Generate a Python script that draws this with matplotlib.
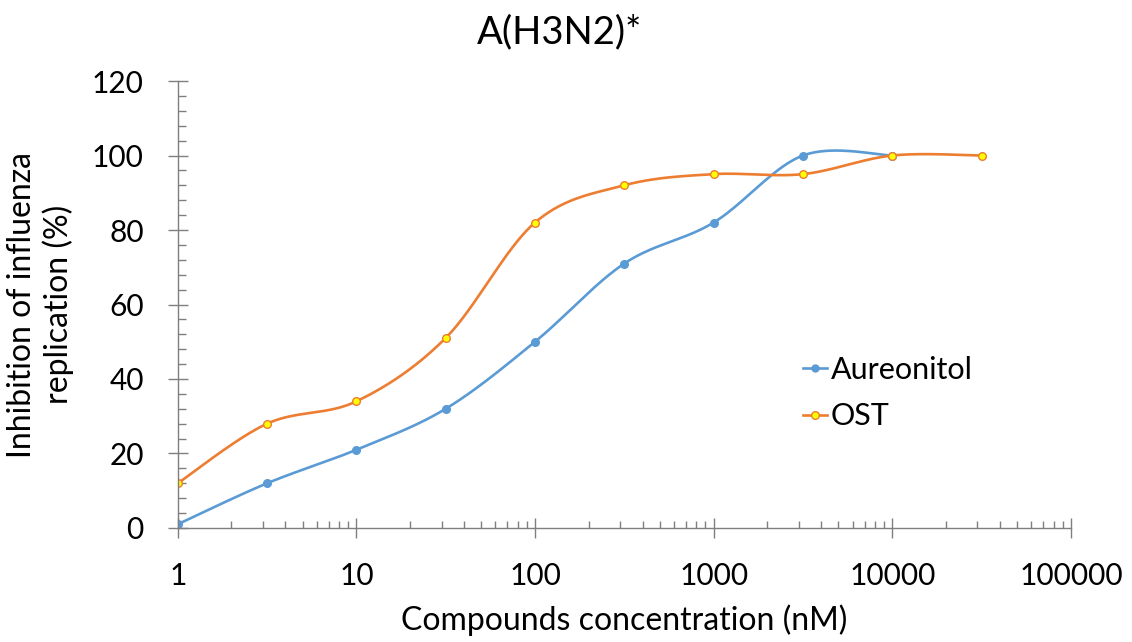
import numpy as np
import matplotlib

matplotlib.use("Agg")
import matplotlib.pyplot as plt
from matplotlib.ticker import FixedLocator, MultipleLocator, LogLocator, NullFormatter

plt.rcParams["font.family"] = ["Lato", "DejaVu Sans"]

# concentrations in nM (half-log dilution series)
conc_aureonitol = [1, 3.162, 10, 31.62, 100, 316.2, 1000, 3162, 10000]
inhib_aureonitol = [1, 12, 21, 32, 50, 71, 82, 100, 100]

conc_ost = [1, 3.162, 10, 31.62, 100, 316.2, 1000, 3162, 10000, 31623]
inhib_ost = [12, 28, 34, 51, 82, 92, 95, 95, 100, 100]

x_ticks = [1, 10, 100, 1000, 10000, 100000]
x_tick_labels = ["1", "10", "100", "1000", "10000", "100000"]

BLUE = "#5B9BD5"
ORANGE = "#ED7D31"
YELLOW = "#FFFF00"
AXIS_GRAY = "#7F7F7F"


def smooth_curve(xs, ys, steps=40):
    """Catmull-Rom style bezier smoothing in log-x space (like spreadsheet smoothed lines)."""
    px = np.log10(np.asarray(xs, dtype=float))
    py = np.asarray(ys, dtype=float)
    n = len(px)
    out_x, out_y = [], []
    t = np.linspace(0, 1, steps)
    for i in range(n - 1):
        i0 = max(i - 1, 0)
        i3 = min(i + 2, n - 1)
        p0 = np.array([px[i], py[i]])
        p3 = np.array([px[i + 1], py[i + 1]])
        c1 = p0 + (np.array([px[i + 1], py[i + 1]]) - np.array([px[i0], py[i0]])) / 6
        c2 = p3 - (np.array([px[i3], py[i3]]) - np.array([px[i], py[i]])) / 6
        pts = (
            ((1 - t) ** 3)[:, None] * p0
            + (3 * (1 - t) ** 2 * t)[:, None] * c1
            + (3 * (1 - t) * t ** 2)[:, None] * c2
            + (t ** 3)[:, None] * p3
        )
        out_x.extend(pts[:, 0])
        out_y.extend(pts[:, 1])
    return 10 ** np.array(out_x), np.array(out_y)


fig = plt.figure(figsize=(11.32, 6.42), dpi=100)
ax = fig.add_axes([0.157, 0.1776, 0.789, 0.6962])

sx, sy = smooth_curve(conc_aureonitol, inhib_aureonitol)
ax.plot(sx, sy, color=BLUE, linewidth=1.9, solid_capstyle="round")
ax.plot(conc_aureonitol, inhib_aureonitol, linestyle="none", marker="o",
        markersize=5.5, color=BLUE, markeredgecolor=BLUE)

sx, sy = smooth_curve(conc_ost, inhib_ost)
ax.plot(sx, sy, color=ORANGE, linewidth=1.9, solid_capstyle="round")
ax.plot(conc_ost, inhib_ost, linestyle="none", marker="o", markersize=5.5,
        markerfacecolor=YELLOW, markeredgecolor=ORANGE, markeredgewidth=1.0)

# legend handles combine line + marker
ax.plot([], [], color=BLUE, linewidth=1.9, marker="o", markersize=5, label="Aureonitol")
ax.plot([], [], color=ORANGE, linewidth=1.9, marker="o", markersize=5.5,
        markerfacecolor=YELLOW, markeredgecolor=ORANGE, label="OST")

ax.set_xscale("log")
ax.set_xlim(1, 100000)
ax.set_ylim(0, 120)
ax.xaxis.set_major_locator(FixedLocator(x_ticks))
ax.set_xticklabels(x_tick_labels)
ax.xaxis.set_minor_locator(LogLocator(base=10, subs=np.arange(2, 10), numticks=20))
ax.xaxis.set_minor_formatter(NullFormatter())
ax.yaxis.set_major_locator(MultipleLocator(20))
ax.yaxis.set_minor_locator(MultipleLocator(4))

for side in ["top", "right"]:
    ax.spines[side].set_visible(False)
for side in ["left", "bottom"]:
    ax.spines[side].set_color(AXIS_GRAY)
    ax.spines[side].set_linewidth(1.0)

ax.tick_params(axis="x", which="major", direction="inout", length=15, width=1.0,
               color=AXIS_GRAY, labelsize=21.5, pad=17)
ax.tick_params(axis="x", which="minor", direction="in", length=5, width=1.0,
               color=AXIS_GRAY)
ax.tick_params(axis="y", which="major", direction="inout", length=15, width=1.0,
               color=AXIS_GRAY, labelsize=21.5, pad=17)
ax.tick_params(axis="y", which="minor", direction="in", length=6, width=1.0,
               color=AXIS_GRAY)

# chart title sits centred over the whole figure, not the plot area
fig.text(0.494, 0.95, "A(H3N2)*", fontsize=27.5, ha="center", va="center")
ax.set_xlabel("Compounds concentration (nM)", fontsize=23, labelpad=10)
ax.set_ylabel("Inhibition of influenza\nreplication (%)", fontsize=23, labelpad=13)

ax.legend(loc="upper left", bbox_to_anchor=(0.70, 0.385), frameon=False, fontsize=22,
          handlelength=0.8, handletextpad=0.1, labelspacing=0.6,
          borderpad=0, borderaxespad=0)

fig.savefig("out.png", dpi=100)
